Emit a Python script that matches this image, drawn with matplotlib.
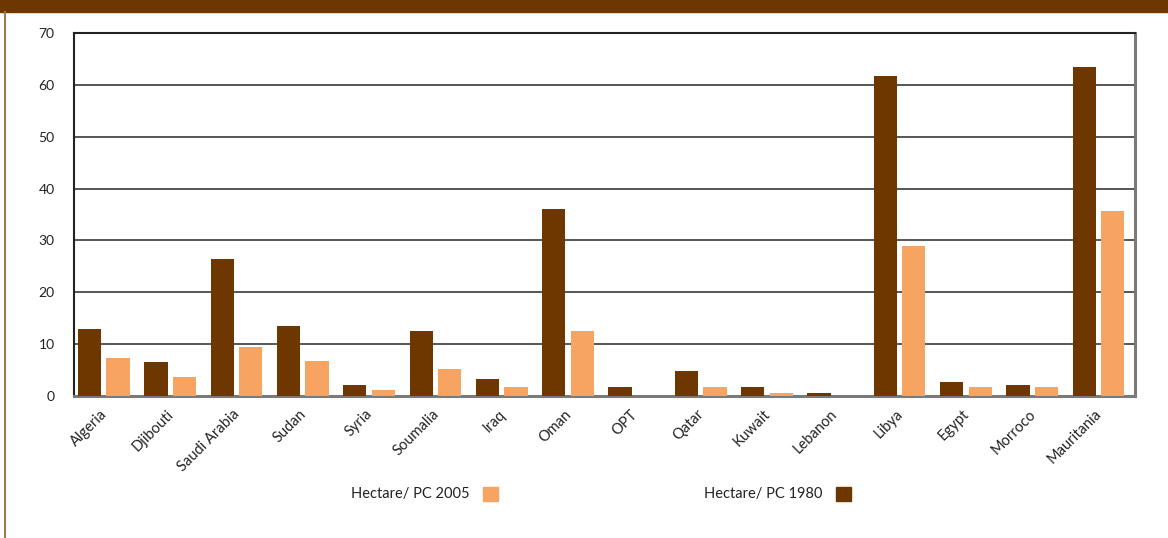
import numpy as np
import matplotlib.pyplot as plt
from matplotlib.patches import Rectangle, Patch
from matplotlib.lines import Line2D
from matplotlib.transforms import ScaledTranslation

plt.rcParams['font.family'] = ['Lato', 'DejaVu Sans']

countries = ['Algeria', 'Djibouti', 'Saudi Arabia', 'Sudan', 'Syria', 'Soumalia',
             'Iraq', 'Oman', 'OPT', 'Qatar', 'Kuwait', 'Lebanon', 'Libya',
             'Egypt', 'Morroco', 'Mauritania']
ha_1980 = [12.9, 6.6, 26.4, 13.5, 2.1, 12.5, 3.3, 36.0, 1.7, 4.8, 1.7, 0.5,
           61.8, 2.7, 2.1, 63.4]
ha_2005 = [7.3, 3.7, 9.4, 6.7, 1.2, 5.2, 1.7, 12.5, 0.0, 1.7, 0.5, 0.0,
           29.0, 1.7, 1.7, 35.6]

dark = '#6E3700'
light = '#F7A463'

fig = plt.figure(figsize=(11.68, 5.38), dpi=100)
ax = fig.add_axes([74/1168, 1-396/538, (1135-74)/1168, (396-33)/538])

x = np.arange(len(countries))
w = 0.35
ax.bar(x - 0.265, ha_1980, w, color=dark, zorder=3)
ax.bar(x + 0.165, ha_2005, w, color=light, zorder=3)

ax.set_xlim(-0.5, len(countries) - 0.5)
ax.set_ylim(0, 70)
ax.set_yticks(range(0, 71, 10))
ax.yaxis.grid(True, color='#3a3a3a', lw=1.2, zorder=0)
ax.tick_params(length=0, labelsize=10, colors='#222222')
ax.tick_params(axis='y', pad=14)
ax.tick_params(axis='x', pad=8, labelsize=10.5)
ax.set_xticks(x)
ax.set_xticklabels(countries, rotation=45, ha='right', rotation_mode='anchor')
# nudge the category labels a little to the left
shift = ScaledTranslation(-7/100, 0, fig.dpi_scale_trans)
for lbl in ax.get_xticklabels():
    lbl.set_transform(lbl.get_transform() + shift)

ax.spines['left'].set_color('#222222')
ax.spines['left'].set_linewidth(1.5)
ax.spines['top'].set_color('#222222')
ax.spines['top'].set_linewidth(1.5)
ax.spines['bottom'].set_color('#7a7a7a')
ax.spines['bottom'].set_linewidth(2.2)
ax.spines['right'].set_color('#7a7a7a')
ax.spines['right'].set_linewidth(2.2)

# banner on top and left frame line
fig.patches.append(Rectangle((0, 1-12/538), 1, 12/538, transform=fig.transFigure,
                             color='#6E3600', zorder=0))
fig.lines.append(Line2D([4.5/1168, 4.5/1168], [0, 1-12/538], transform=fig.transFigure,
                        color='#A07A50', lw=1.5))

# legends, label first then swatch
for lab, col, xr in [('Hectare/ PC 2005', light, 498/1168), ('Hectare/ PC 1980', dark, 851/1168)]:
    fig.legend(handles=[Patch(color=col, label=lab)], loc='center right',
               bbox_to_anchor=(xr, 1-494/538), frameon=False, markerfirst=False,
               handlelength=1.05, handleheight=1.1, handletextpad=0.9,
               borderpad=0, borderaxespad=0, fontsize=10.5, labelcolor='#222222')

fig.savefig('out.png', dpi=100)
